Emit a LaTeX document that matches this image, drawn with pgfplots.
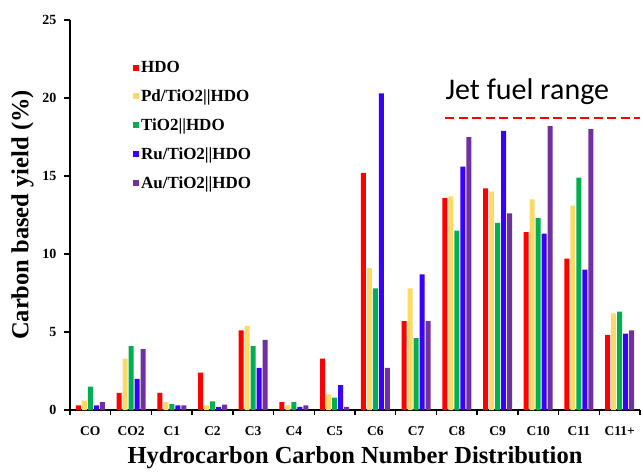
\documentclass[border=0pt]{standalone}
\usepackage{pgfplots}
\pgfplotsset{compat=1.18}
\usetikzlibrary{calc}
\usepackage{fontspec}
\setmainfont{Liberation Serif}
\newfontfamily\calib{Carlito}
\definecolor{cHDO}{RGB}{255,0,0}
\definecolor{cPd}{RGB}{255,217,102}
\definecolor{cTi}{RGB}{0,176,80}
\definecolor{cRu}{RGB}{55,0,255}
\definecolor{cAu}{RGB}{112,48,160}
\begin{document}
\begin{tikzpicture}
\begin{axis}[
    name=ax,
    scale only axis,
    width=570pt, height=390pt,
    ybar=1pt, bar width=5pt,
    xmin=-0.5, xmax=13.5,
    ymin=0, ymax=25,
    ytick={0,5,...,25},
    xtick={0,...,13},
    xticklabels={CO,CO2,C1,C2,C3,C4,C5,C6,C7,C8,C9,C10,C11,C11+},
    minor xtick={-0.5,0.5,...,13.5},
    major x tick style={draw=none},
    minor tick length=5pt,
    major tick length=6pt,
    tick align=outside,
    axis lines*=left,
    axis line style={line width=1.6pt},
    tick style={line width=1.4pt, black},
    /pgf/number format/assume math mode=true,
    yticklabel style={font=\fontsize{14}{14}\selectfont\bfseries, xshift=-4pt},
    xticklabel style={font=\fontsize{13.5}{13.5}\selectfont\bfseries, yshift=-7pt},
    xlabel={Hydrocarbon Carbon Number Distribution},
    ylabel={Carbon based yield (\%)},
    xlabel style={font=\fontsize{24.5}{24.5}\selectfont\bfseries, yshift=-4pt},
    ylabel style={font=\fontsize{24.5}{24.5}\selectfont\bfseries, yshift=2pt},
    legend style={draw=none, fill=none, at={(0.105,0.905)}, anchor=north west,
        font=\fontsize{17}{17}\selectfont\bfseries, row sep=11.7pt},
    legend cell align=left,
    legend image code/.code={\fill[#1] (0pt,-3pt) rectangle (6pt,3pt);},
    clip=false,
]
\addplot[fill=cHDO, draw=none] coordinates {
  (0,0.3) (1,1.1) (2,1.1) (3,2.4) (4,5.1) (5,0.5) (6,3.3) (7,15.2) (8,5.7) (9,13.6) (10,14.2) (11,11.4) (12,9.7) (13,4.8)};
\addplot[fill=cPd, draw=none] coordinates {
  (0,0.6) (1,3.3) (2,0.5) (3,0.3) (4,5.4) (5,0.3) (6,1.0) (7,9.1) (8,7.8) (9,13.7) (10,14.0) (11,13.5) (12,13.1) (13,6.2)};
\addplot[fill=cTi, draw=none] coordinates {
  (0,1.5) (1,4.1) (2,0.4) (3,0.55) (4,4.1) (5,0.5) (6,0.8) (7,7.8) (8,4.6) (9,11.5) (10,12.0) (11,12.3) (12,14.9) (13,6.3)};
\addplot[fill=cRu, draw=none] coordinates {
  (0,0.3) (1,2.0) (2,0.3) (3,0.2) (4,2.7) (5,0.2) (6,1.6) (7,20.3) (8,8.7) (9,15.6) (10,17.9) (11,11.3) (12,9.0) (13,4.9)};
\addplot[fill=cAu, draw=none] coordinates {
  (0,0.5) (1,3.9) (2,0.3) (3,0.35) (4,4.5) (5,0.3) (6,0.2) (7,2.7) (8,5.7) (9,17.5) (10,12.6) (11,18.2) (12,18.0) (13,5.1)};
\legend{HDO,Pd/TiO2||HDO,TiO2||HDO,Ru/TiO2||HDO,Au/TiO2||HDO}
\draw[red, line width=2.2pt, dash pattern=on 9pt off 4.5pt] (axis cs:8.72,18.7) -- (axis cs:13.5,18.7);
\node[font=\calib\fontsize{30}{30}\selectfont, anchor=west, inner sep=0pt] at (axis cs:8.72,20.4) {Jet fuel range};
\end{axis}
\pgfresetboundingbox
\path[use as bounding box] ($(ax.south west)+(-70pt,-62pt)$) rectangle ($(ax.north east)+(2pt,20pt)$);
\end{tikzpicture}
\end{document}
